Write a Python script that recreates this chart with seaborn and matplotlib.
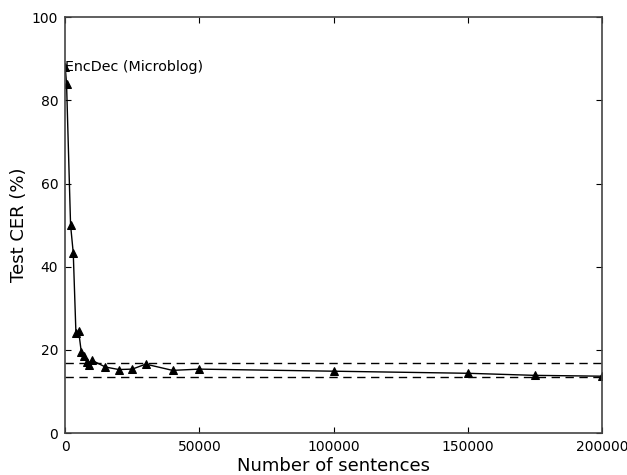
import matplotlib
matplotlib.use("Agg")
import matplotlib.pyplot as plt
import seaborn as sns
import pandas as pd

sentences = [0, 500, 2000, 3000, 4000, 5000, 6000, 7000, 8000, 9000, 10000,
             15000, 20000, 25000, 30000, 40000, 50000, 100000, 150000, 175000, 200000]
cer = [88.0, 84.0, 50.0, 43.3, 24.0, 24.5, 19.5, 18.5, 17.2, 16.3, 17.5,
       15.9, 15.3, 15.4, 16.6, 15.1, 15.4, 14.9, 14.4, 13.9, 13.7]
baselines = [16.9, 13.4]
label_text = "EncDec (Microblog)"

df = pd.DataFrame({"sentences": sentences, "cer": cer})

sns.set_style("ticks")
plt.rcParams["font.family"] = ["DejaVu Sans"]
plt.rcParams["text.color"] = "black"
plt.rcParams["axes.labelcolor"] = "black"
plt.rcParams["xtick.color"] = "black"
plt.rcParams["ytick.color"] = "black"

fig = plt.figure(figsize=(6.27, 4.75), dpi=100)
ax = fig.add_axes([0.104, 0.088, 0.856, 0.876])

sns.lineplot(data=df, x="sentences", y="cer", ax=ax, color="black", lw=1,
             marker="^", markersize=6, markeredgecolor="black")
for b in baselines:
    ax.axhline(b, color="black", ls="--", lw=1, dashes=(6, 4))

ax.text(0, 88, label_text, fontsize=10.3, va="center", ha="left")

ax.set_xlim(0, 200000)
ax.set_ylim(0, 100)
ax.set_xticks([0, 50000, 100000, 150000, 200000])
ax.set_yticks([0, 20, 40, 60, 80, 100])
ax.tick_params(direction="in", length=4, labelsize=10, top=True, right=True, pad=5)
for s in ax.spines.values():
    s.set_color("#444444")
    s.set_linewidth(1.2)
ax.set_xlabel("Number of sentences", fontsize=13)
ax.set_ylabel("Test CER (%)", fontsize=13)
ax.yaxis.set_label_coords(-0.069, 0.5)
ax.xaxis.set_label_coords(0.5, -0.058)

fig.savefig("out.png", dpi=100)
